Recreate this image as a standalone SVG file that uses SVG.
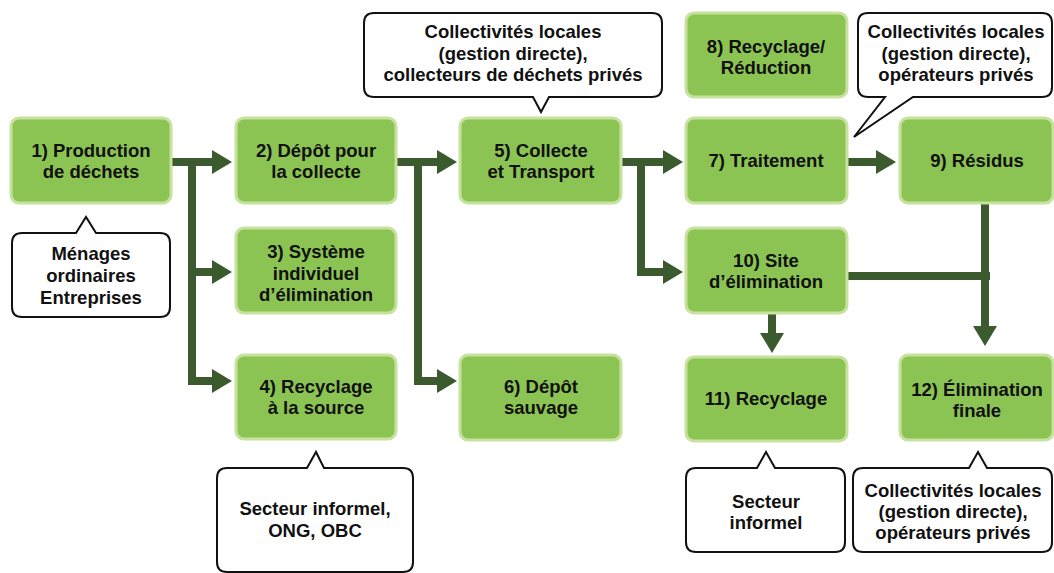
<svg xmlns="http://www.w3.org/2000/svg" width="1054" height="573" viewBox="0 0 1054 573">
  <style>
    .box { fill: #8cc454; stroke: #c7e19e; stroke-width: 3; }
    .callout { fill: #ffffff; stroke: #111111; stroke-width: 2; stroke-linejoin: miter; }
    .t { font-family: "Liberation Sans", Arial, sans-serif; font-weight: 700; font-size: 18.5px; fill: #111111; text-anchor: middle; }
    .flow { fill: none; stroke: #3b5a2d; stroke-width: 8; stroke-linejoin: miter; stroke-linecap: butt; }
  </style>
  <defs>
    <marker id="head" viewBox="0 0 20 24" markerWidth="20" markerHeight="24" refX="0" refY="12" markerUnits="userSpaceOnUse" orient="auto">
      <path d="M0,0 L20,12 L0,24 Z" fill="#3b5a2d"/>
    </marker>
  </defs>
  <rect width="1054" height="573" fill="#ffffff"/>

  <!-- connectors -->
  <g id="connectors">
    <path class="flow" d="M171,162 H212" marker-end="url(#head)"/>
    <path class="flow" d="M192,162 V381 H212" marker-end="url(#head)"/>
    <path class="flow" d="M192,272 H212" marker-end="url(#head)"/>
    <path class="flow" d="M396,162 H437" marker-end="url(#head)"/>
    <path class="flow" d="M418,162 V381 H437" marker-end="url(#head)"/>
    <path class="flow" d="M621,162 H663" marker-end="url(#head)"/>
    <path class="flow" d="M641,162 V272 H663" marker-end="url(#head)"/>
    <path class="flow" d="M847,162 H876" marker-end="url(#head)"/>
    <path class="flow" d="M772,313 V333" marker-end="url(#head)"/>
    <path class="flow" d="M985,203 V326" marker-end="url(#head)"/>
    <path class="flow" d="M847,276 H990"/>
  </g>

  <!-- process boxes -->
  <g id="n1">
    <rect class="box" x="11" y="118" width="160" height="85" rx="8"/>
    <text class="t" x="91" y="157">1) Production</text>
    <text class="t" x="91" y="178">de déchets</text>
  </g>
  <g id="n2">
    <rect class="box" x="236" y="118" width="160" height="85" rx="8"/>
    <text class="t" x="316" y="157">2) Dépôt pour</text>
    <text class="t" x="316" y="178">la collecte</text>
  </g>
  <g id="n3">
    <rect class="box" x="236" y="228" width="160" height="85" rx="8"/>
    <text class="t" x="316" y="258">3) Système</text>
    <text class="t" x="316" y="280">individuel</text>
    <text class="t" x="316" y="301">d’élimination</text>
  </g>
  <g id="n4">
    <rect class="box" x="236" y="355" width="160" height="84" rx="8"/>
    <text class="t" x="316" y="393">4) Recyclage</text>
    <text class="t" x="316" y="414">à la source</text>
  </g>
  <g id="n5">
    <rect class="box" x="460" y="118" width="161" height="85" rx="8"/>
    <text class="t" x="541" y="157">5) Collecte</text>
    <text class="t" x="541" y="178">et Transport</text>
  </g>
  <g id="n6">
    <rect class="box" x="460" y="355" width="161" height="85" rx="8"/>
    <text class="t" x="541" y="393">6) Dépôt</text>
    <text class="t" x="541" y="414">sauvage</text>
  </g>
  <g id="n7">
    <rect class="box" x="686" y="118" width="161" height="85" rx="8"/>
    <text class="t" x="766" y="167">7) Traitement</text>
  </g>
  <g id="n8">
    <rect class="box" x="686" y="13" width="161" height="84" rx="8"/>
    <text class="t" x="766" y="53">8) Recyclage/</text>
    <text class="t" x="766" y="74">Réduction</text>
  </g>
  <g id="n9">
    <rect class="box" x="900" y="118" width="153" height="85" rx="8"/>
    <text class="t" x="977" y="167">9) Résidus</text>
  </g>
  <g id="n10">
    <rect class="box" x="686" y="228" width="161" height="85" rx="8"/>
    <text class="t" x="766" y="267">10) Site</text>
    <text class="t" x="766" y="288">d’élimination</text>
  </g>
  <g id="n11">
    <rect class="box" x="686" y="357" width="161" height="84" rx="8"/>
    <text class="t" x="766" y="405">11) Recyclage</text>
  </g>
  <g id="n12">
    <rect class="box" x="900" y="355" width="153" height="85" rx="8"/>
    <text class="t" x="977" y="396">12) Élimination</text>
    <text class="t" x="977" y="417">finale</text>
  </g>

  <!-- actor callouts -->
  <g id="c1">
    <path class="callout" d="M22,233 H76 L86,217 L96,233 H160 Q170,233 170,243 V307 Q170,317 160,317 H22 Q12,317 12,307 V243 Q12,233 22,233 Z"/>
    <text class="t" x="91" y="260">Ménages</text>
    <text class="t" x="91" y="282">ordinaires</text>
    <text class="t" x="91" y="304">Entreprises</text>
  </g>
  <g id="c5">
    <path class="callout" d="M374,13 H652 Q662,13 662,23 V87 Q662,97 652,97 H549 L541,112 L533,97 H374 Q364,97 364,87 V23 Q364,13 374,13 Z"/>
    <text class="t" x="513" y="38">Collectivités locales</text>
    <text class="t" x="513" y="60">(gestion directe),</text>
    <text class="t" x="513" y="81">collecteurs de déchets privés</text>
  </g>
  <g id="c7">
    <path class="callout" d="M868,13 H1042 Q1052,13 1052,23 V87 Q1052,97 1042,97 H913 L854,137 L885,97 H868 Q858,97 858,87 V23 Q858,13 868,13 Z"/>
    <text class="t" x="956" y="38">Collectivités locales</text>
    <text class="t" x="956" y="60">(gestion directe),</text>
    <text class="t" x="956" y="81">opérateurs privés</text>
  </g>
  <g id="c4">
    <path class="callout" d="M227,468 H307 L316,452 L324,468 H403 Q413,468 413,478 V562 Q413,572 403,572 H227 Q217,572 217,562 V478 Q217,468 227,468 Z"/>
    <text class="t" x="315" y="515">Secteur informel,</text>
    <text class="t" x="315" y="537">ONG, OBC</text>
  </g>
  <g id="c11">
    <path class="callout" d="M696,468 H757 L766,452 L775,468 H835 Q845,468 845,478 V542 Q845,552 835,552 H696 Q686,552 686,542 V478 Q686,468 696,468 Z"/>
    <text class="t" x="766" y="508">Secteur</text>
    <text class="t" x="766" y="529">informel</text>
  </g>
  <g id="c12">
    <path class="callout" d="M863,468 H969 L978,452 L987,468 H1042 Q1052,468 1052,478 V542 Q1052,552 1042,552 H863 Q853,552 853,542 V478 Q853,468 863,468 Z"/>
    <text class="t" x="953" y="497">Collectivités locales</text>
    <text class="t" x="953" y="518">(gestion directe),</text>
    <text class="t" x="953" y="539">opérateurs privés</text>
  </g>
</svg>
